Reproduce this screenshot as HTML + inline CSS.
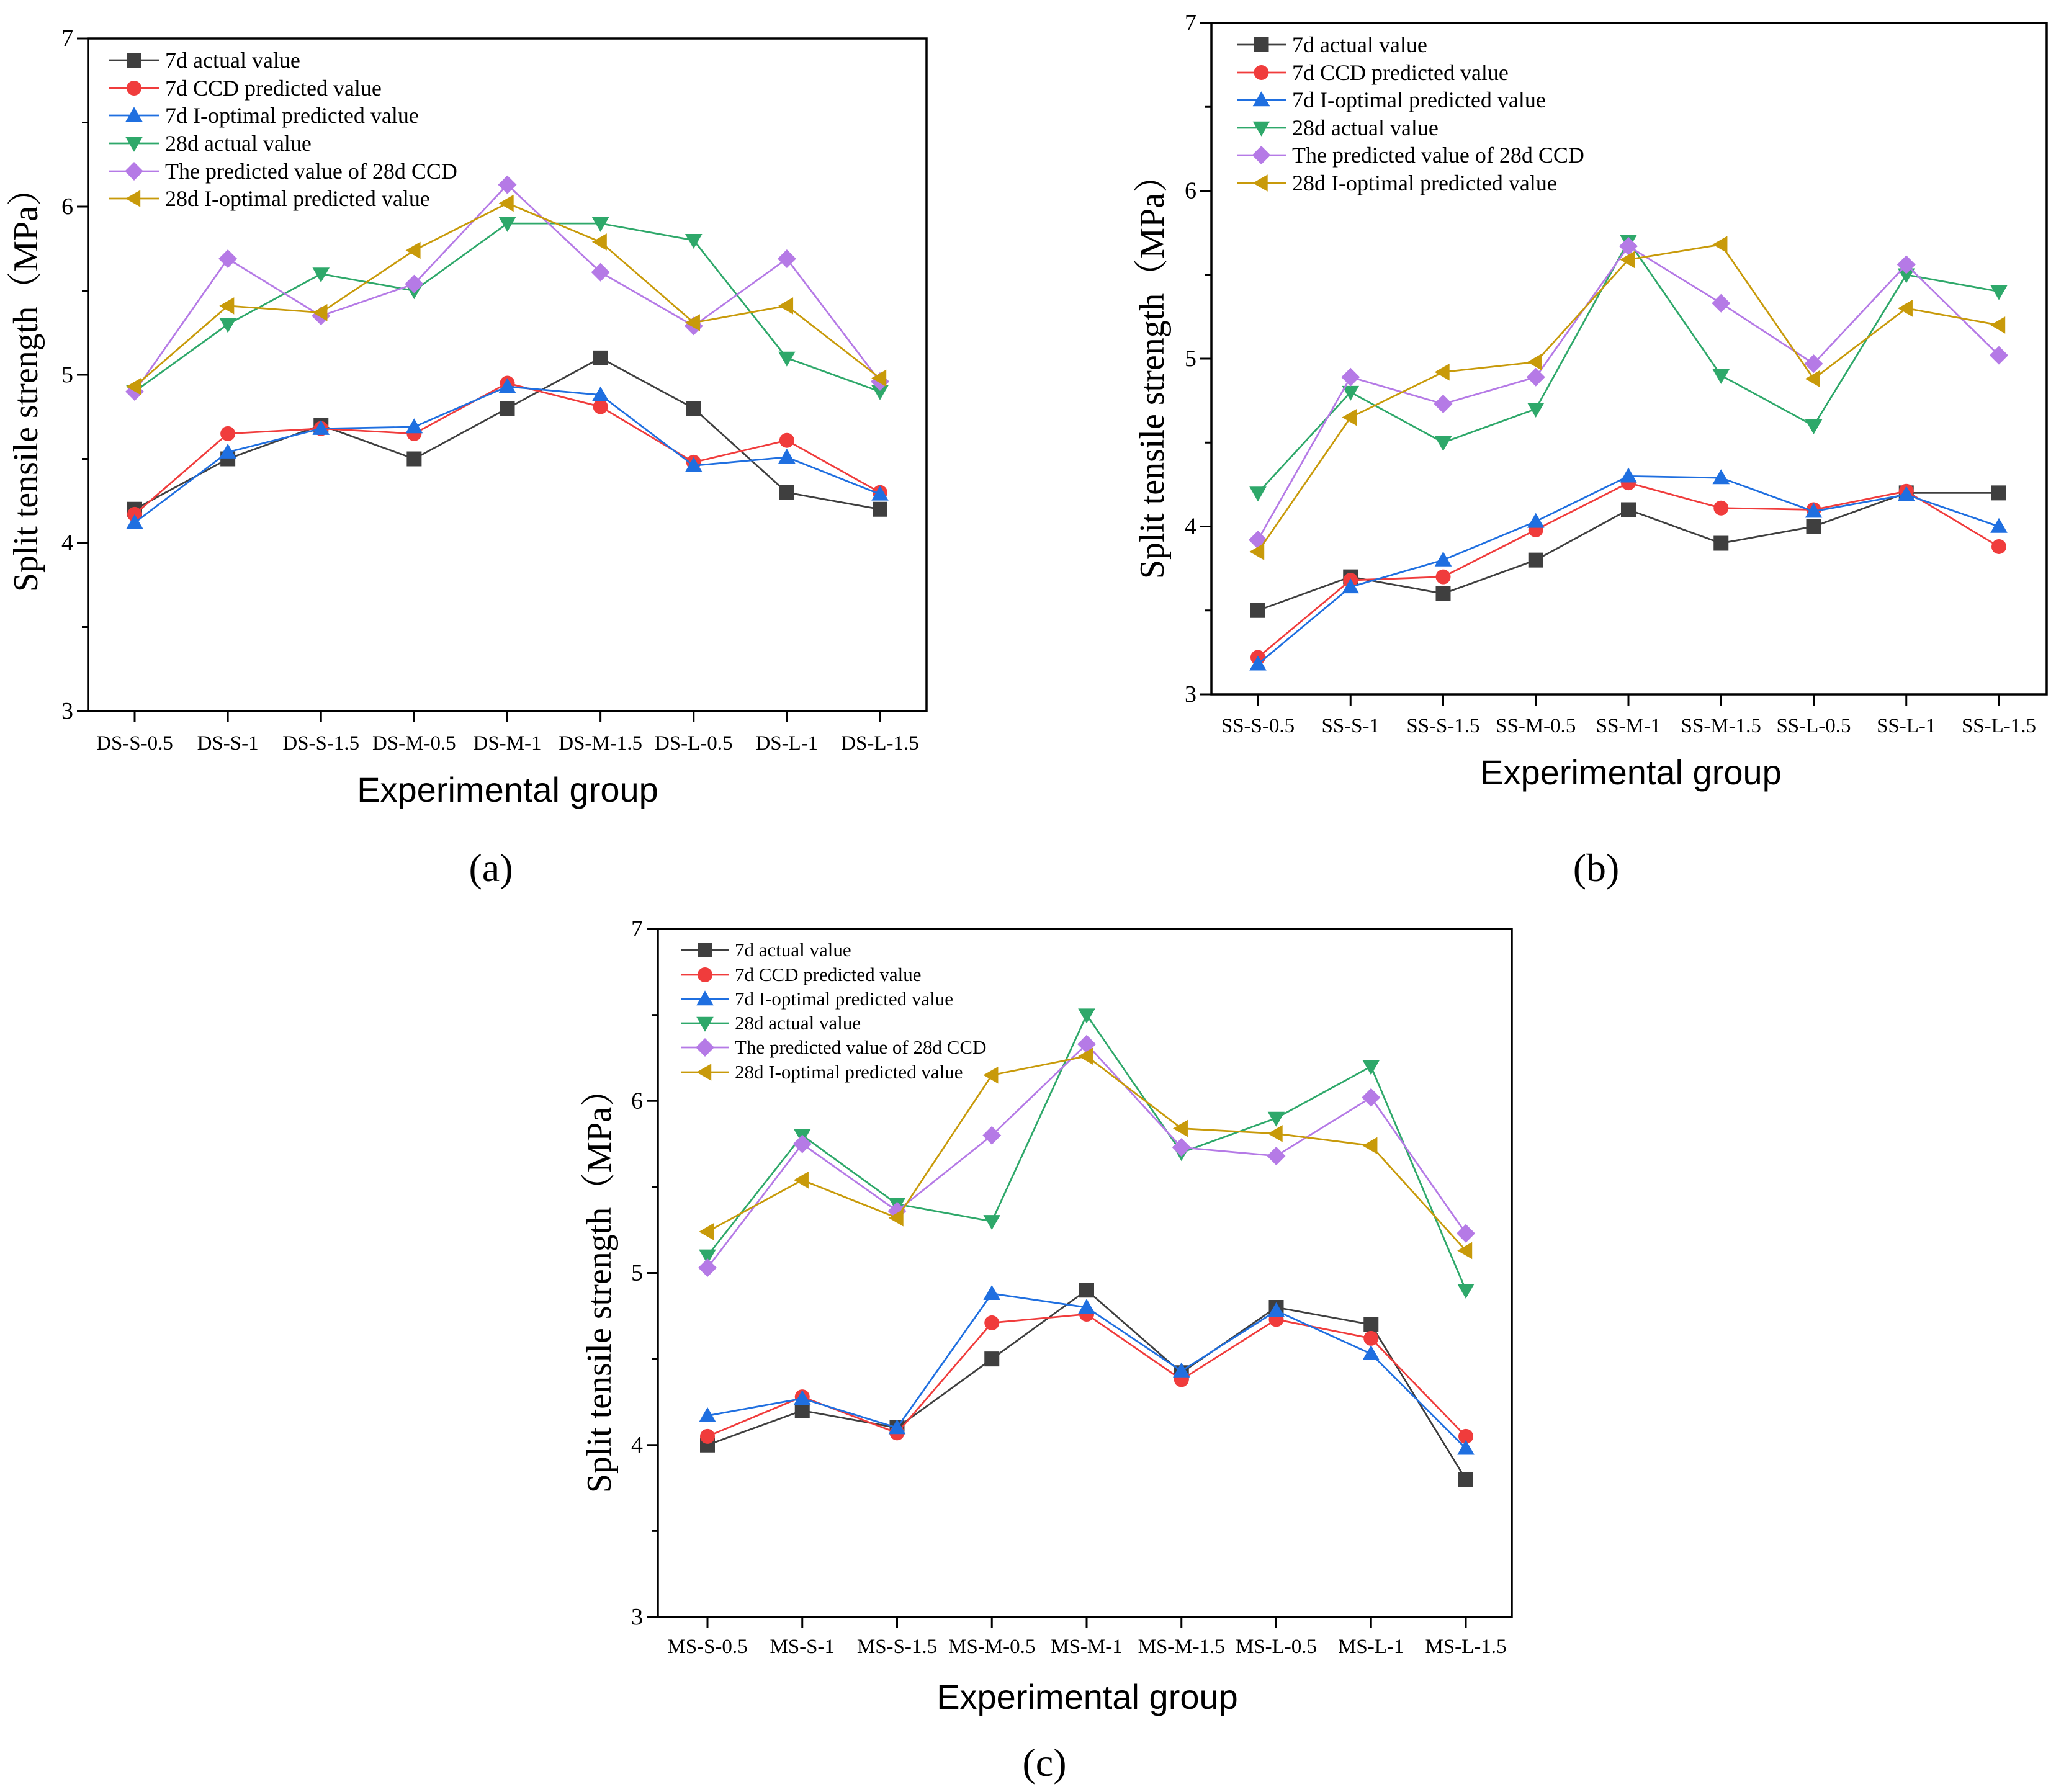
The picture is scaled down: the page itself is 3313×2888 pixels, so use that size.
<!DOCTYPE html>
<html><head><meta charset="utf-8"><style>
html,body{margin:0;padding:0;background:#fff;}
svg{display:block;}
</style></head><body>
<svg id="fig" width="3313" height="2888" viewBox="0 0 3313 2888" xmlns="http://www.w3.org/2000/svg"></svg>
<script>
const seriesNames = ["7d actual value","7d CCD predicted value","7d I-optimal predicted value","28d actual value","The predicted value of 28d CCD","28d I-optimal predicted value"];
const seriesColors = ["#3f3f3f","#f03c3c","#1f6fe0","#2ea86a","#b57ae6","#c89a0a"];
const seriesMarkers = ["square","circle","triangle-up","triangle-down","diamond","triangle-left"];
const yTicks = [3,4,5,6,7];

const catsA = ["DS-S-0.5","DS-S-1","DS-S-1.5","DS-M-0.5","DS-M-1","DS-M-1.5","DS-L-0.5","DS-L-1","DS-L-1.5"];
const a7dActual = [4.2,4.5,4.7,4.5,4.8,5.1,4.8,4.3,4.2];
const a7dCCD = [4.17,4.65,4.68,4.65,4.95,4.81,4.48,4.61,4.3];
const a7dIopt = [4.12,4.54,4.68,4.69,4.93,4.88,4.46,4.51,4.29];
const a28dActual = [4.9,5.3,5.6,5.5,5.9,5.9,5.8,5.1,4.9];
const a28dCCD = [4.9,5.69,5.35,5.54,6.13,5.61,5.29,5.69,4.96];
const a28dIopt = [4.93,5.41,5.37,5.74,6.02,5.79,5.31,5.41,4.98];

const catsB = ["SS-S-0.5","SS-S-1","SS-S-1.5","SS-M-0.5","SS-M-1","SS-M-1.5","SS-L-0.5","SS-L-1","SS-L-1.5"];
const b7dActual = [3.5,3.7,3.6,3.8,4.1,3.9,4.0,4.2,4.2];
const b7dCCD = [3.22,3.68,3.7,3.98,4.26,4.11,4.1,4.21,3.88];
const b7dIopt = [3.18,3.64,3.8,4.03,4.3,4.29,4.09,4.19,4.0];
const b28dActual = [4.2,4.8,4.5,4.7,5.7,4.9,4.6,5.5,5.4];
const b28dCCD = [3.92,4.89,4.73,4.89,5.67,5.33,4.97,5.56,5.02];
const b28dIopt = [3.85,4.65,4.92,4.98,5.59,5.68,4.88,5.3,5.2];

const catsC = ["MS-S-0.5","MS-S-1","MS-S-1.5","MS-M-0.5","MS-M-1","MS-M-1.5","MS-L-0.5","MS-L-1","MS-L-1.5"];
const c7dActual = [4.0,4.2,4.1,4.5,4.9,4.42,4.8,4.7,3.8];
const c7dCCD = [4.05,4.28,4.07,4.71,4.76,4.38,4.73,4.62,4.05];
const c7dIopt = [4.17,4.27,4.1,4.88,4.8,4.43,4.78,4.53,3.98];
const c28dActual = [5.1,5.8,5.4,5.3,6.5,5.7,5.9,6.2,4.9];
const c28dCCD = [5.03,5.75,5.36,5.8,6.33,5.73,5.68,6.02,5.23];
const c28dIopt = [5.24,5.54,5.32,6.15,6.26,5.84,5.81,5.74,5.13];

const NS = "http://www.w3.org/2000/svg";
const svg = document.getElementById("fig");
function mk(tag, attrs, parent){
  const e = document.createElementNS(NS, tag);
  for (const k in attrs) e.setAttribute(k, attrs[k]);
  (parent||svg).appendChild(e);
  return e;
}
function markerPath(type, x, y, s){
  const r = s/2;
  switch(type){
    case "square": return `M${x-r},${y-r}h${s}v${s}h${-s}Z`;
    case "circle": return `M${x-r},${y}a${r},${r} 0 1,0 ${s},0a${r},${r} 0 1,0 ${-s},0Z`;
    case "triangle-up": return `M${x},${y-r*1.15}L${x+r*1.15},${y+r*0.85}L${x-r*1.15},${y+r*0.85}Z`;
    case "triangle-down": return `M${x},${y+r*1.15}L${x+r*1.15},${y-r*0.85}L${x-r*1.15},${y-r*0.85}Z`;
    case "diamond": return `M${x},${y-r*1.25}L${x+r*1.25},${y}L${x},${y+r*1.25}L${x-r*1.25},${y}Z`;
    case "triangle-left": return `M${x-r*1.15},${y}L${x+r*0.85},${y-r*1.15}L${x+r*0.85},${y+r*1.15}Z`;
  }
}
function drawPanel(p){
  const g = mk("g", {});
  
  
  const yScale = v => p.bottom - (v - 3) / 4 * (p.bottom - p.top);
  const xScale = i => p.x0 + i * (p.x1 - p.x0) / (p.cats.length - 1);
  const box = mk("rect", {x:p.left, y:p.top, width:p.right-p.left, height:p.bottom-p.top, fill:"none", stroke:"#000", "stroke-width":3.5}, g);
  
  
  for (let v = 3; v <= 7.001; v += 0.5){
    const major = Math.abs(v - Math.round(v)) < 1e-6;
    mk("line", {x1:p.left, x2:p.left-(major?18:10), y1:yScale(v), y2:yScale(v), stroke:"#000","stroke-width":3}, g);
  }
  yTicks.forEach(v => {
    const t = mk("text", {x:p.left-24, y:yScale(v)+12, "text-anchor":"end", "font-family":"Liberation Serif, serif", "font-size":p.yfs}, g);
    t.textContent = v;
    
    
  });
  p.cats.forEach((c,i) => {
    mk("line", {x1:xScale(i), x2:xScale(i), y1:p.bottom, y2:p.bottom+18, stroke:"#000","stroke-width":3}, g);
    const t = mk("text", {x:xScale(i), y:p.tickY, "text-anchor":"middle", "font-family":"Liberation Serif, serif", "font-size":p.xfs}, g);
    t.textContent = c;
    
    
  });
  const xt = mk("text", {x:p.xTitleX, y:p.xTitleY, "text-anchor":"middle", "font-family":"Liberation Sans, sans-serif", "font-size":56}, g);
  xt.textContent = "Experimental group";
  
  
  const yt = mk("text", {x:0, y:0, "text-anchor":"middle", transform:`translate(${p.yTitleX},${p.yTitleY}) rotate(-90)`, "font-family":"Liberation Serif, 'Noto Serif CJK SC', serif", "font-size":56}, g);
  yt.textContent = "Split tensile strength（MPa）";
  
  
  const lab = mk("text", {x:p.labX, y:p.labY, "text-anchor":"middle", "font-family":"Liberation Serif, serif", "font-size":64}, g);
  lab.textContent = "(" + p.id + ")";
  
  
  p.series.forEach((vals, si) => {
    const col = seriesColors[si];
    const pts = vals.map((v,i) => xScale(i) + "," + yScale(v)).join(" ");
    const pl = mk("polyline", {points:pts, fill:"none", stroke:col, "stroke-width":2.8}, g);
    
    
    vals.forEach((v,i) => {
      const m = mk("path", {d:markerPath(seriesMarkers[si], xScale(i), yScale(v), 24), fill:col}, g);
      
      
    });
  });
  seriesNames.forEach((n, si) => {
    const y = p.legY[si];
    const le = mk("g", {}, g);
    
    
    mk("line", {x1:p.legX0, x2:p.legX1, y1:y, y2:y, stroke:seriesColors[si], "stroke-width":2.8}, le);
    mk("path", {d:markerPath(seriesMarkers[si], (p.legX0+p.legX1)/2, y, 24), fill:seriesColors[si]}, le);
    const t = mk("text", {x:p.legX1+10, y:y+p.legFs*0.33, "font-family":"Liberation Serif, serif", "font-size":p.legFs}, le);
    t.textContent = n;
  });
}
drawPanel({id:"a", cats:catsA, series:[a7dActual,a7dCCD,a7dIopt,a28dActual,a28dCCD,a28dIopt],
  left:142, right:1493, top:62, bottom:1146, x0:217, x1:1418, tickY:1208, xfs:33, yfs:38,
  xTitleX:818, xTitleY:1292, yTitleX:60, yTitleY:615, labX:791, labY:1420,
  legX0:176, legX1:256, legY:[97,142,186,231,276,320], legFs:36});
drawPanel({id:"b", cats:catsB, series:[b7dActual,b7dCCD,b7dIopt,b28dActual,b28dCCD,b28dIopt],
  left:1952, right:3298, top:37, bottom:1119, x0:2027, x1:3221, tickY:1180, xfs:33, yfs:38,
  xTitleX:2628, xTitleY:1264, yTitleX:1875, yTitleY:594, labX:2572, labY:1420,
  legX0:1993, legX1:2072, legY:[72,117,161,206,250,295], legFs:36});
drawPanel({id:"c", cats:catsC, series:[c7dActual,c7dCCD,c7dIopt,c28dActual,c28dCCD,c28dIopt],
  left:1060, right:2436, top:1497, bottom:2606, x0:1140, x1:2362, tickY:2664, xfs:33, yfs:38,
  xTitleX:1752, xTitleY:2754, yTitleX:984, yTitleY:2067, labX:1683, labY:2862,
  legX0:1098, legX1:1174, legY:[1531,1571,1610,1649,1688,1728], legFs:31});
</script>
</body></html>
